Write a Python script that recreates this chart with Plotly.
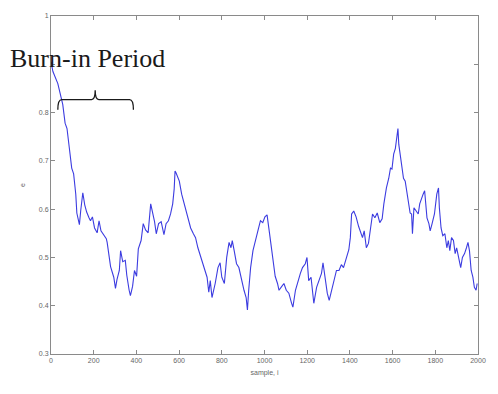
import plotly.graph_objects as go

# Sampled trace of e over the chain (sample index, value)
sample = [0, 9, 32, 45, 55, 66, 75, 86, 97, 106, 116, 121, 127, 133, 139, 149, 158, 167, 178, 185,
          194, 204, 216, 225, 234, 247, 259, 263, 279, 294, 302, 309, 320, 326, 336, 348, 355, 366, 372, 382,
          391, 401, 409, 422, 432, 443, 455, 467, 475, 485, 493, 504, 516, 529, 539, 550, 560, 570, 577, 581,
          586, 593, 601, 612, 624, 639, 654, 667, 677, 688, 700, 716, 731, 739, 746, 754, 769, 782, 792, 800,
          812, 823, 834, 843, 849, 858, 869, 880, 892, 904, 914, 920, 926, 935, 946, 956, 969, 981, 992, 1002,
          1012, 1022, 1030, 1041, 1050, 1061, 1068, 1081, 1091, 1102, 1114, 1127, 1133, 1145, 1157, 1168, 1178, 1191, 1199, 1207,
          1218, 1231, 1244, 1255, 1267, 1274, 1285, 1294, 1303, 1314, 1324, 1337, 1349, 1360, 1370, 1383, 1395, 1402, 1408, 1418,
          1429, 1441, 1452, 1459, 1467, 1477, 1487, 1498, 1506, 1517, 1528, 1540, 1551, 1559, 1571, 1582, 1590, 1597, 1605, 1613,
          1620, 1625, 1629, 1636, 1643, 1651, 1659, 1666, 1674, 1682, 1689, 1693, 1700, 1709, 1720, 1727, 1735, 1743, 1750, 1755,
          1761, 1770, 1776, 1785, 1796, 1807, 1815, 1819, 1827, 1835, 1845, 1854, 1861, 1868, 1876, 1885, 1893, 1900, 1911, 1919,
          1927, 1937, 1946, 1953, 1960, 1968, 1976, 1983, 1991, 1996]
e_value = [0.905, 0.885, 0.860, 0.837, 0.817, 0.778, 0.767, 0.726, 0.685, 0.673, 0.631, 0.592, 0.582, 0.568, 0.596, 0.634, 0.609, 0.594, 0.582, 0.576,
           0.584, 0.561, 0.551, 0.576, 0.555, 0.547, 0.539, 0.531, 0.481, 0.459, 0.436, 0.454, 0.473, 0.514, 0.491, 0.494, 0.463, 0.432, 0.421, 0.440,
           0.473, 0.461, 0.518, 0.535, 0.570, 0.557, 0.551, 0.611, 0.596, 0.574, 0.549, 0.570, 0.574, 0.547, 0.570, 0.576, 0.590, 0.611, 0.642, 0.679,
           0.675, 0.668, 0.658, 0.631, 0.611, 0.584, 0.561, 0.549, 0.541, 0.520, 0.502, 0.479, 0.459, 0.428, 0.452, 0.417, 0.446, 0.479, 0.489, 0.459,
           0.446, 0.500, 0.531, 0.520, 0.535, 0.514, 0.487, 0.479, 0.452, 0.432, 0.417, 0.391, 0.432, 0.479, 0.514, 0.535, 0.555, 0.576, 0.572, 0.584,
           0.588, 0.555, 0.529, 0.483, 0.461, 0.446, 0.432, 0.440, 0.446, 0.432, 0.426, 0.405, 0.397, 0.432, 0.452, 0.467, 0.479, 0.487, 0.500, 0.452,
           0.459, 0.405, 0.438, 0.452, 0.467, 0.489, 0.456, 0.426, 0.411, 0.432, 0.452, 0.473, 0.473, 0.485, 0.479, 0.500, 0.516, 0.541, 0.590, 0.596,
           0.584, 0.564, 0.549, 0.541, 0.555, 0.520, 0.529, 0.561, 0.590, 0.582, 0.592, 0.572, 0.580, 0.611, 0.644, 0.664, 0.685, 0.683, 0.714, 0.726,
           0.747, 0.767, 0.734, 0.714, 0.685, 0.664, 0.658, 0.638, 0.623, 0.592, 0.590, 0.549, 0.603, 0.596, 0.590, 0.611, 0.623, 0.631, 0.638, 0.617,
           0.582, 0.570, 0.555, 0.570, 0.590, 0.631, 0.644, 0.603, 0.561, 0.545, 0.549, 0.520, 0.535, 0.514, 0.541, 0.535, 0.508, 0.520, 0.494, 0.479,
           0.500, 0.508, 0.520, 0.531, 0.514, 0.473, 0.459, 0.438, 0.432, 0.446]

x_ticks = [0, 200, 400, 600, 800, 1000, 1200, 1400, 1600, 1800, 2000]
y_ticks = [0.3, 0.4, 0.5, 0.6, 0.7, 0.8, 0.9, 1.0]
# the 0.9 label sits under the "Burn-in Period" caption, so it is left blank
y_tick_text = ["0.3", "0.4", "0.5", "0.6", "0.7", "0.8", "", "1"]

# Burn-in span marked with a brace
burn_start, burn_mid, burn_end = 32, 207, 386

fig = go.Figure()
fig.add_trace(go.Scatter(x=sample, y=e_value, mode="lines",
                         line=dict(color="#3c3ce0", width=1.1), showlegend=False))

axis_common = dict(showline=True, linecolor="#8a8a8a", linewidth=1, mirror="ticks",
                   ticks="inside", ticklen=4, tickcolor="#8a8a8a", showgrid=False,
                   zeroline=False, tickfont=dict(family="Liberation Sans", size=7, color="#666"))

fig.update_xaxes(range=[0, 2000], tickvals=x_ticks, **axis_common,
                 title=dict(text="sample, i", font=dict(family="Liberation Sans", size=7, color="#666"),
                            standoff=6))
fig.update_yaxes(range=[0.3, 1.0], tickvals=y_ticks, ticktext=y_tick_text, **axis_common,
                 title=dict(text="e", font=dict(family="Liberation Sans", size=7, color="#666"),
                            standoff=12))

# Brace path in data coordinates
y_base, y_line, y_peak = 0.806, 0.827, 0.846
brace = (f"M {burn_start},{y_base} Q {burn_start},{y_line} {burn_start + 18},{y_line} "
         f"L {burn_mid - 17},{y_line} Q {burn_mid},{y_line} {burn_mid},{y_peak} "
         f"Q {burn_mid},{y_line} {burn_mid + 17},{y_line} "
         f"L {burn_end - 18},{y_line} Q {burn_end},{y_line} {burn_end},{y_base}")
fig.add_shape(type="path", path=brace, xref="x", yref="y",
              line=dict(color="#1a1a1a", width=1.3))

fig.add_annotation(text="Burn-in Period", xref="paper", yref="paper",
                   x=-0.1, y=0.875, xanchor="left", yanchor="middle", showarrow=False,
                   font=dict(family="Liberation Serif", size=26, color="#1a1a1a"))

fig.update_layout(width=498, height=394, autosize=False,
                  margin=dict(l=51, r=12, t=14, b=40),
                  paper_bgcolor="white", plot_bgcolor="white")

fig.write_html("out.html")
